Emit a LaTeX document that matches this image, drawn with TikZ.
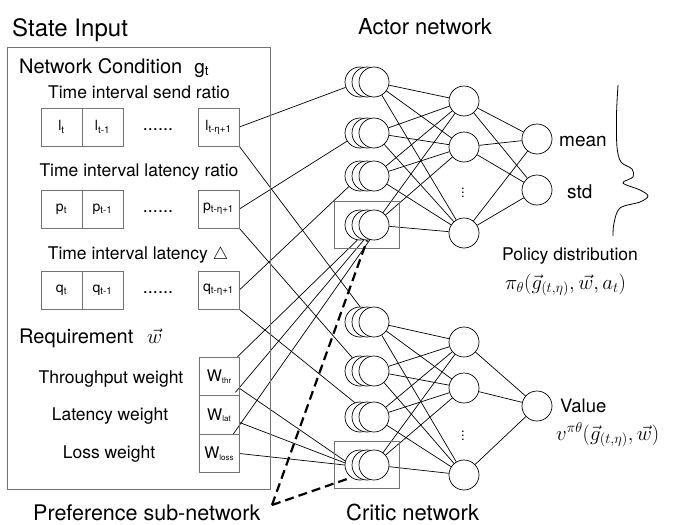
\documentclass[tikz,border=0pt]{standalone}
\usepackage{fontspec}
\setmainfont{TeX Gyre Heros}
\usetikzlibrary{fit,calc}
\pgfdeclarelayer{bg}
\pgfsetlayers{bg,main}
\newcommand\fsz[1]{\fontsize{#1}{#1}\selectfont}
\newcommand\wsub[1]{\raisebox{-1.5pt}{\fsz{8}#1}}
\definecolor{boxgray}{rgb}{0.45,0.45,0.45}
\begin{document}
\begin{tikzpicture}[x=1pt,y=-1pt,
  lbl/.style={inner sep=0pt,font=\fsz{17.5}},
  big/.style={inner sep=0pt,font=\fsz{21.5}},
  cell/.style={draw=boxgray,line width=0.8pt,minimum width=41pt,minimum height=38pt,inner sep=0pt,font=\fsz{14}},
  wcell/.style={draw=boxgray,line width=0.8pt,minimum width=40pt,minimum height=38.5pt,inner sep=0pt,font=\fsz{16}},
  neuron/.style={circle,draw,line width=0.7pt,fill=white,minimum size=30pt,inner sep=0pt},
  conn/.style={line width=0.7pt},
  dashline/.style={line width=2.2pt,dash pattern=on 9pt off 5pt},
  grp/.style={draw=boxgray,line width=0.8pt,inner xsep=10pt,inner ysep=8pt}]
\useasboundingbox (0,0) rectangle (675,525);

% titles
\node[inner sep=0pt,font=\fsz{24},anchor=base west] (tstate) at (12,36) {State Input};
\node[big,font=\fsz{22},anchor=base west] (tactor) at (358,34) {Actor network};
\node[big,font=\fsz{22},anchor=base west] (tcritic) at (346,520) {Critic network};
\node[big,anchor=base west] (tpref) at (33,520) {Preference sub-network};

% state input box
\draw[draw=boxgray,line width=0.8pt] (7,47) rectangle (270,489);
\node[inner sep=0pt,font=\fsz{20},anchor=base west] (tnet) at (19,73) {Network Condition\hspace{0.6em}{\fsz{19}g\textsubscript{t}}};
\node[lbl,anchor=base] (tsend) at (139,98) {Time interval send ratio};
\node[lbl,anchor=base] (tlatr) at (139,176) {Time interval latency ratio};
\node[lbl,anchor=base] (tlatd) at (138,259) {Time interval latency $\triangle$};
\node[inner sep=0pt,font=\fsz{20},anchor=base west] (treq) at (19,343) {Requirement};
\node[inner sep=0pt,font=\fsz{21},anchor=base west] (treqw) at (147,343) {$\vec{w}$};

% cells
\node[cell] (l1) at (61.5,127) {l\textsubscript{t}};
\node[cell] (l2) at (102.5,127) {l\textsubscript{t-1}};
\node[lbl,anchor=base,font=\fsz{18}] (ld) at (158,130) {......};
\node[cell] (l3) at (218.5,127) {l\textsubscript{t-η+1}};
\node[cell] (p1) at (61.5,209) {p\textsubscript{t}};
\node[cell] (p2) at (102.5,209) {p\textsubscript{t-1}};
\node[lbl,anchor=base,font=\fsz{18}] (pd) at (158,212) {......};
\node[cell] (p3) at (218.5,209) {p\textsubscript{t-η+1}};
\node[cell] (q1) at (61.5,290) {q\textsubscript{t}};
\node[cell] (q2) at (102.5,290) {q\textsubscript{t-1}};
\node[lbl,anchor=base,font=\fsz{18}] (qd) at (158,293) {......};
\node[cell] (q3) at (218.5,290) {q\textsubscript{t-η+1}};

% weights
\node[lbl,anchor=base] (lthr) at (111,383) {Throughput weight};
\node[lbl,anchor=base] (llat) at (110,420) {Latency weight};
\node[lbl,anchor=base] (lloss) at (109,458) {Loss weight};
\node[wcell] (wt) at (219,376.5) {W\wsub{thr}};
\node[wcell] (wl) at (219,415) {W\wsub{lat}};
\node[wcell] (wo) at (219,453.5) {W\wsub{loss}};

% actor input neurons
\foreach \i/\y in {1/82,2/133,3/176,4/225}{
  \node[neuron] (ab\i) at (360,\y) {};
  \node[neuron] (am\i) at (367,\y) {};
  \node[neuron] (a\i) at (374,\y) {};
}
% critic input neurons
\foreach \i/\y in {1/322,2/371,3/417,4/465}{
  \node[neuron] (cb\i) at (360,\y) {};
  \node[neuron] (cm\i) at (367,\y) {};
  \node[neuron] (c\i) at (374,\y) {};
}
\node[grp,fit=(ab4)(a4)] (ga) {};
\node[grp,fit=(cb4)(c4)] (gc) {};

% hidden and outputs
\node[neuron] (ah1) at (464,101) {};
\node[neuron] (ah2) at (464,147) {};
\node[neuron] (ah3) at (464,233) {};
\node[inner sep=0pt,font=\fsz{13}] (adots) at (463,190) {$\vdots$};
\node[neuron] (mean) at (537,139) {};
\node[neuron] (std) at (537,190) {};
\node[neuron] (ch1) at (464,342) {};
\node[neuron] (ch2) at (464,388) {};
\node[neuron] (ch3) at (464,475) {};
\node[inner sep=0pt,font=\fsz{13}] (cdots) at (463,433) {$\vdots$};
\node[neuron] (val) at (537,406) {};

% output labels
\node[inner sep=0pt,font=\fsz{19},anchor=base west] (tmean) at (559,146) {mean};
\node[inner sep=0pt,font=\fsz{19},anchor=base west] (tstd) at (567,198) {std};
\node[lbl,anchor=base west] (tpol) at (502,260) {Policy distribution};
\node[inner sep=0pt,font=\fsz{22},anchor=base west] (tpi) at (505,289) {$\pi_\theta(\vec{g}_{(t,\eta)},\vec{w},a_t)$};
\node[inner sep=0pt,font=\fsz{18.5},anchor=base west] (tval) at (560,412) {Value};
\node[inner sep=0pt,font=\fsz{22},anchor=base west] (tvf) at (556,440) {$v^{\pi\theta}(\vec{g}_{(t,\eta)},\vec{w})$};

% gaussian
\draw[line width=0.8pt] plot[smooth,tension=0.55] coordinates {(618,85) (616.5,115) (617,147) (621,162) (632,169) (633,177) (623,183) (640,190) (648,196) (640,202) (620,208) (614,223) (613,236)};

\begin{pgfonlayer}{bg}
  % inputs to input neurons
  \draw[conn] (l3.east) -- (ab1);
  \draw[conn] (l3.south east) -- (cb1.north);
  \draw[conn] (p3.east) -- (ab2);
  \draw[conn] (p3.south east) -- (cb2.120);
  \draw[conn] (q3.east) -- (ab3);
  \draw[conn] (q3.south east) -- (cb3.110);
  \draw[conn] ([xshift=-2pt]wt.north east) -- (ab4.-100);
  \draw[conn] ([xshift=-4pt,yshift=3pt]wl.north east) -- (ab4.-75);
  \draw[conn] ([xshift=-6pt]wo.north east) -- (am4.-80);
  \draw[conn] (wt.-30) -- (cb4.165);
  \draw[conn] (wl.-20) -- (cb4.172);
  \draw[conn] (wo.east) -- (cb4.180);
  % input to hidden
  \foreach \i in {1,...,4}{
    \foreach \j in {1,2,3}{
      \draw[conn] (a\i) -- (ah\j);
      \draw[conn] (c\i) -- (ch\j);
    }
  }
  \foreach \j in {1,2,3}{
    \draw[conn] (ah\j) -- (mean);
    \draw[conn] (ah\j) -- (std);
    \draw[conn] (ch\j) -- (val);
  }
\end{pgfonlayer}

% preference dashed lines
\coordinate (ds) at (272,505);
\draw[dashline] (ds) -- (am4.south);
\draw[dashline] (ds) -- (cb4.235);
\end{tikzpicture}
\end{document}
